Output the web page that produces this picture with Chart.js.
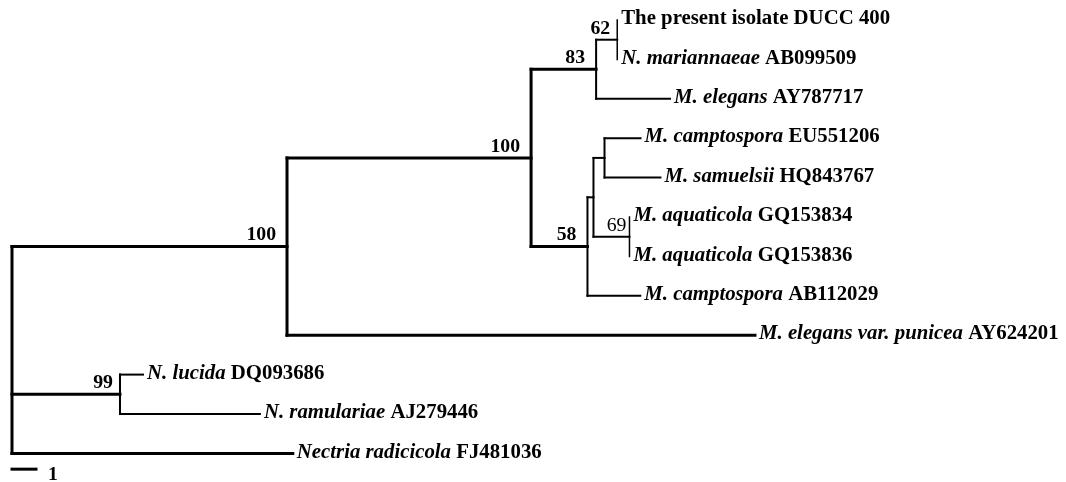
<!DOCTYPE html>
<html>
<head>
<meta charset="utf-8">
<script src="https://cdn.jsdelivr.net/npm/chart.js@4/dist/chart.umd.min.js"></script>
<style>
  html, body { margin: 0; padding: 0; background: #fff; }
</style>
</head>
<body>
<canvas id="tree" width="1066" height="482"></canvas>
<script>
// tree nodes in pre-order, parent of each, and branch length (scale bar = 1)
const nodeIds = ['root', 'n100a', 'n100b', 'n83', 'n62', 'isolate', 'mariannaeae', 'elegans',
  'n58', 'nF', 'nG', 'campEU', 'samuelsii', 'n69', 'aq34', 'aq36', 'campAB', 'punicea',
  'n99', 'lucida', 'ramulariae', 'nectria'];
const nodeParents = [null, 'root', 'n100a', 'n100b', 'n83', 'n62', 'n62', 'n83',
  'n100b', 'n58', 'nF', 'nG', 'nG', 'nF', 'n69', 'n69', 'n58', 'n100a',
  'root', 'n99', 'n99', 'root'];
const branchLengths = [0, 11.46, 10.17, 2.71, 0.88, 0, 0, 3.08,
  2.35, 0.25, 0.46, 1.5, 2.33, 1.5, 0, 0, 2.2, 19.5,
  4.5, 0.96, 5.83, 11.7];

// tip labels, top to bottom
const tipSpecies = ['', 'N. mariannaeae', 'M. elegans', 'M. camptospora', 'M. samuelsii',
  'M. aquaticola', 'M. aquaticola', 'M. camptospora', 'M. elegans var. punicea',
  'N. lucida', 'N. ramulariae', 'Nectria radicicola'];
const tipAccessions = ['The present isolate DUCC 400', 'AB099509', 'AY787717', 'EU551206', 'HQ843767',
  'GQ153834', 'GQ153836', 'AB112029', 'AY624201', 'DQ093686', 'AJ279446', 'FJ481036'];

// bootstrap support
const supportNodes = ['n100a', 'n100b', 'n83', 'n62', 'n58', 'n69', 'n99'];
const supportValues = [100, 100, 83, 62, 58, 69, 99];

const scaleBarLength = 1;

// ---- layout from the data ----
const children = {};
nodeIds.forEach(id => { children[id] = []; });
nodeIds.forEach((id, i) => { if (nodeParents[i]) children[nodeParents[i]].push(id); });

const depth = {};
nodeIds.forEach((id, i) => {
  const p = nodeParents[i];
  depth[id] = (p ? depth[p] : 0) + branchLengths[i];
});

const rowOf = {};
let tipCount = 0;
const tipIds = [];
function placeRows(id) {
  const kids = children[id];
  if (!kids.length) {
    rowOf[id] = tipCount++;
    tipIds.push(id);
    return;
  }
  kids.forEach(placeRows);
  rowOf[id] = (rowOf[kids[0]] + rowOf[kids[kids.length - 1]]) / 2;
}
placeRows('root');

const thickParents = ['root', 'n100a', 'n100b'];
const thinVerticals = ['n62', 'n69'];

const datasets = [];
nodeIds.forEach((id, i) => {
  const p = nodeParents[i];
  if (p && branchLengths[i] > 0) {
    datasets.push({
      data: [{ x: depth[p], y: rowOf[id] }, { x: depth[id], y: rowOf[id] }],
      borderWidth: thickParents.includes(p) ? 3 : 2,
    });
  }
  const kids = children[id];
  if (kids.length) {
    datasets.push({
      data: [{ x: depth[id], y: rowOf[kids[0]] }, { x: depth[id], y: rowOf[kids[kids.length - 1]] }],
      borderWidth: thickParents.includes(id) ? 3 : (thinVerticals.includes(id) ? 1.5 : 2),
    });
  }
});
const scaleBarRow = tipCount - 1 + 0.4;
datasets.push({
  data: [{ x: 0, y: scaleBarRow }, { x: scaleBarLength, y: scaleBarRow }],
  borderWidth: 3,
});
datasets.forEach(ds => {
  ds.borderColor = '#000';
  ds.showLine = true;
  ds.pointRadius = 0;
  ds.borderCapStyle = 'square';
  ds.tension = 0;
});

const serif = '"Liberation Serif", "Times New Roman", serif';
const stretch = 1.04; // the original text is a little wide

// draw text slightly stretched sideways, anchored at (px, py)
function wideText(ctx, text, px, py) {
  ctx.save();
  ctx.translate(px, py);
  ctx.scale(stretch, 1);
  ctx.fillText(text, 0, 0);
  ctx.restore();
  return ctx.measureText(text).width * stretch;
}

const labelPlugin = {
  id: 'treeLabels',
  afterDatasetsDraw(chart) {
    const { ctx, scales: { x, y } } = chart;
    ctx.save();
    ctx.fillStyle = '#000';
    ctx.textBaseline = 'middle';
    ctx.textAlign = 'left';
    tipIds.forEach((id, i) => {
      let px = x.getPixelForValue(depth[id]) + 4;
      const py = y.getPixelForValue(rowOf[id]) - 1;
      if (tipSpecies[i]) {
        ctx.font = 'bold italic 20px ' + serif;
        px += wideText(ctx, tipSpecies[i] + ' ', px, py);
      }
      ctx.font = 'bold 20px ' + serif;
      wideText(ctx, tipAccessions[i], px, py);
    });

    ctx.textAlign = 'right';
    supportNodes.forEach((id, i) => {
      const v = supportValues[i];
      const gap = v === 69 ? 3 : (v === 62 || v === 99 ? 7 : 11);
      ctx.font = (v === 69 ? '' : 'bold ') + '19px ' + serif;
      wideText(ctx, String(v), x.getPixelForValue(depth[id]) - gap, y.getPixelForValue(rowOf[id]) - 11);
    });

    ctx.textAlign = 'left';
    ctx.font = 'bold 19px ' + serif;
    wideText(ctx, String(scaleBarLength), x.getPixelForValue(scaleBarLength) + 12, y.getPixelForValue(scaleBarRow) + 6);
    ctx.restore();
  }
};

new Chart(document.getElementById('tree'), {
  type: 'scatter',
  data: { datasets },
  options: {
    responsive: false,
    animation: false,
    layout: { padding: 0 },
    scales: {
      x: { type: 'linear', display: false, min: -0.5, max: 43.92 },
      y: { type: 'linear', display: false, reverse: true, min: -0.508, max: 11.726 },
    },
    plugins: {
      legend: { display: false },
      tooltip: { enabled: false },
    },
  },
  plugins: [labelPlugin],
});
</script>
</body>
</html>
